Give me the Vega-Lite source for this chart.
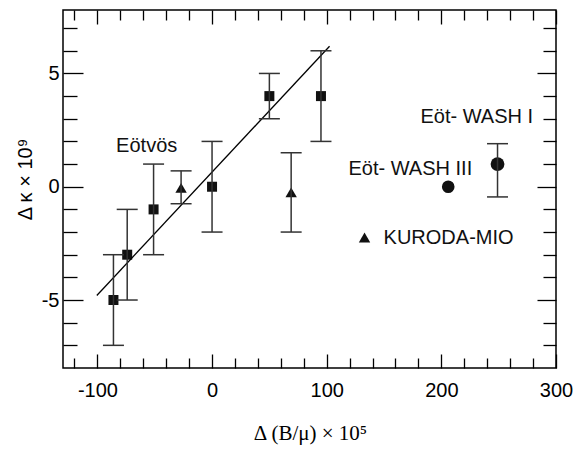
{
  "$schema": "https://vega.github.io/schema/vega-lite/v6.json",
  "width": 493,
  "height": 358,
  "autosize": "none",
  "padding": {"left": 63, "top": 10, "right": 21, "bottom": 82},
  "background": "white",
  "config": {
    "view": {"stroke": "#000", "strokeWidth": 1.5},
    "font": "Liberation Sans",
    "axis": {"grid": false, "domain": false, "tickColor": "#000", "tickWidth": 1.3, "labelColor": "#000", "titleColor": "#000", "labelFont": "Liberation Sans", "labelFontSize": 20}
  },
  "datasets": {
    "points": [
      {"series": "Eötvös", "x": -86, "y": -5, "lo": -7, "hi": -3},
      {"series": "Eötvös", "x": -74, "y": -3, "lo": -5, "hi": -1},
      {"series": "Eötvös", "x": -51, "y": -1, "lo": -3, "hi": 1},
      {"series": "Eötvös", "x": 0, "y": 0, "lo": -2, "hi": 2},
      {"series": "Eötvös", "x": 50, "y": 4, "lo": 3, "hi": 5},
      {"series": "Eötvös", "x": 95, "y": 4, "lo": 2, "hi": 6},
      {"series": "KURODA-MIO", "x": -27, "y": -0.05, "lo": -0.75, "hi": 0.7},
      {"series": "KURODA-MIO", "x": 69, "y": -0.25, "lo": -2, "hi": 1.5},
      {"series": "Eöt-WASH III", "x": 206, "y": 0, "lo": null, "hi": null},
      {"series": "Eöt-WASH I", "x": 249, "y": 1, "lo": -0.45, "hi": 1.9},
      {"series": "KURODA-MIO", "x": 133, "y": -2.24, "lo": null, "hi": null}
    ],
    "fit": [
      {"x": -100.5, "y": -4.8},
      {"x": 102.5, "y": 6.2}
    ],
    "labels": [
      {"text": "Eötvös", "x": -57, "y": 1.53, "align": "center"},
      {"text": "Eöt- WASH I", "x": 280, "y": 2.8, "align": "right"},
      {"text": "Eöt- WASH III", "x": 119, "y": 0.53, "align": "left"},
      {"text": "KURODA-MIO", "x": 149.6, "y": -2.54, "align": "left"}
    ]
  },
  "resolve": {"axis": {"x": "independent", "y": "independent"}},
  "layer": [
    {
      "data": {"name": "points"},
      "mark": {"type": "point", "filled": true, "opacity": 1, "color": "#111"},
      "encoding": {
        "x": {"field": "x", "type": "quantitative", "scale": {"domain": [-130, 300], "nice": false, "zero": false},
          "axis": {"orient": "bottom", "values": [-120, -100, -80, -60, -40, -20, 0, 20, 40, 60, 80, 100, 120, 140, 160, 180, 200, 220, 240, 260, 280, 300],
            "tickSize": {"condition": {"test": "datum.value % 100 === 0", "value": -14}, "value": -10},
            "labelExpr": "datum.value % 100 === 0 ? '' + datum.value : ''",
            "labelFlush": false, "labelPadding": 26,
            "title": "Δ (B/μ) × 10⁵", "titleFont": "Liberation Serif", "titleFontSize": 21, "titleFontWeight": "normal",
            "titleX": 247, "titleY": 65, "titleBaseline": "middle", "titleAlign": "center"}},
        "y": {"field": "y", "type": "quantitative", "scale": {"domain": [-8, 7.8], "nice": false, "zero": false},
          "axis": {"orient": "left", "values": [-7, -6, -5, -4, -3, -2, -1, 0, 1, 2, 3, 4, 5, 6, 7],
            "tickSize": {"condition": {"test": "datum.value % 5 === 0", "value": -20}, "value": -14},
            "labelExpr": "datum.value % 5 === 0 ? '' + datum.value : ''",
            "labelPadding": 24,
            "title": "Δ κ × 10⁹", "titleFont": "Liberation Sans", "titleFontSize": 20, "titleFontWeight": "normal",
            "titleAngle": -90, "titleX": -38, "titleY": 169, "titleBaseline": "middle", "titleAlign": "center"}},
        "shape": {"field": "series", "type": "nominal", "legend": null,
          "scale": {"domain": ["Eötvös", "KURODA-MIO", "Eöt-WASH III", "Eöt-WASH I"], "range": ["square", "triangle-up", "circle", "circle"]}},
        "size": {"field": "series", "type": "nominal", "legend": null,
          "scale": {"domain": ["Eötvös", "KURODA-MIO", "Eöt-WASH III", "Eöt-WASH I"], "range": [100, 190, 85, 85]}}
      }
    },
    {
      "data": {"name": "fit"},
      "mark": {"type": "line", "color": "#000", "strokeWidth": 1.3},
      "encoding": {
        "x": {"field": "x", "type": "quantitative", "scale": {"domain": [-130, 300], "nice": false, "zero": false},
          "axis": {"orient": "top", "values": [-120, -100, -80, -60, -40, -20, 0, 20, 40, 60, 80, 100, 120, 140, 160, 180, 200, 220, 240, 260, 280, 300],
            "tickSize": {"condition": {"test": "datum.value % 100 === 0", "value": -14}, "value": -10},
            "labels": false, "title": null}},
        "y": {"field": "y", "type": "quantitative", "scale": {"domain": [-8, 7.8], "nice": false, "zero": false},
          "axis": {"orient": "right", "values": [-7, -6, -5, -4, -3, -2, -1, 0, 1, 2, 3, 4, 5, 6, 7],
            "tickSize": {"condition": {"test": "datum.value % 5 === 0", "value": -19}, "value": -13},
            "labels": false, "title": null}}
      }
    },
    {
      "mark": {"type": "rule", "strokeDash": [7, 4], "color": "#000", "strokeWidth": 1.2},
      "encoding": {"y": {"datum": 0, "type": "quantitative", "axis": null}}
    },
    {
      "mark": {"type": "rule", "strokeDash": [7, 4], "color": "#000", "strokeWidth": 1.2},
      "encoding": {"x": {"datum": 0, "type": "quantitative", "axis": null}}
    },
    {
      "data": {"name": "points"},
      "transform": [{"filter": "datum.lo != null"}],
      "mark": {"type": "rule", "color": "#333", "strokeWidth": 1.5},
      "encoding": {
        "x": {"field": "x", "type": "quantitative", "axis": null},
        "y": {"field": "lo", "type": "quantitative", "axis": null},
        "y2": {"field": "hi"}
      }
    },
    {
      "data": {"name": "points"},
      "transform": [{"filter": "datum.lo != null"}],
      "mark": {"type": "tick", "orient": "horizontal", "color": "#333", "thickness": 1.5, "size": 21, "opacity": 1},
      "encoding": {
        "x": {"field": "x", "type": "quantitative", "axis": null},
        "y": {"field": "lo", "type": "quantitative", "axis": null}
      }
    },
    {
      "data": {"name": "points"},
      "transform": [{"filter": "datum.hi != null"}],
      "mark": {"type": "tick", "orient": "horizontal", "color": "#333", "thickness": 1.5, "size": 21, "opacity": 1},
      "encoding": {
        "x": {"field": "x", "type": "quantitative", "axis": null},
        "y": {"field": "hi", "type": "quantitative", "axis": null}
      }
    },
    {
      "data": {"name": "labels"},
      "transform": [{"filter": "datum.align === 'center'"}],
      "mark": {"type": "text", "font": "Liberation Sans", "fontSize": 20, "color": "#111", "baseline": "alphabetic", "align": "center"},
      "encoding": {
        "x": {"field": "x", "type": "quantitative", "axis": null},
        "y": {"field": "y", "type": "quantitative", "axis": null},
        "text": {"field": "text"}
      }
    },
    {
      "data": {"name": "labels"},
      "transform": [{"filter": "datum.align === 'left'"}],
      "mark": {"type": "text", "font": "Liberation Sans", "fontSize": 20, "color": "#111", "baseline": "alphabetic", "align": "left"},
      "encoding": {
        "x": {"field": "x", "type": "quantitative", "axis": null},
        "y": {"field": "y", "type": "quantitative", "axis": null},
        "text": {"field": "text"}
      }
    },
    {
      "data": {"name": "labels"},
      "transform": [{"filter": "datum.align === 'right'"}],
      "mark": {"type": "text", "font": "Liberation Sans", "fontSize": 20, "color": "#111", "baseline": "alphabetic", "align": "right"},
      "encoding": {
        "x": {"field": "x", "type": "quantitative", "axis": null},
        "y": {"field": "y", "type": "quantitative", "axis": null},
        "text": {"field": "text"}
      }
    }
  ]
}
